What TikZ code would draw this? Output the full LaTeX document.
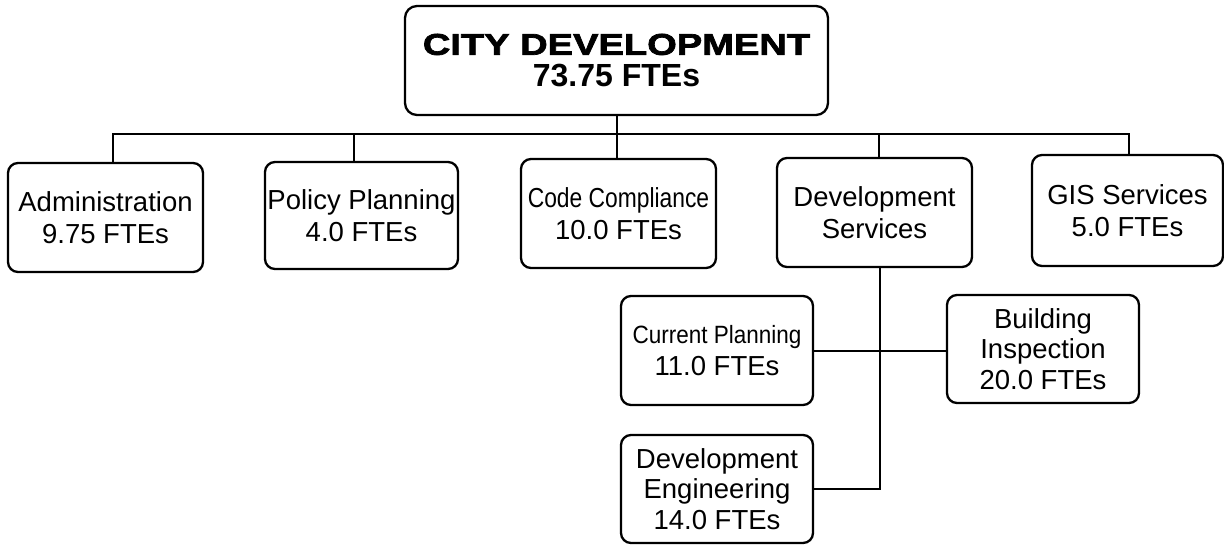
\documentclass[tikz,border=0pt]{standalone}
\usepackage{fontspec}
\setmainfont{Liberation Sans}
\newfontfamily\titlefont{Liberation Sans}[BoldFeatures={FakeStretch=1.27,FakeBold=2.4}]
\newfontfamily\narrowfont{Liberation Sans}[FakeStretch=0.83]
\begin{document}
\begin{tikzpicture}[x=1pt,y=-1pt,
  unit/.style={draw=black, line width=2.3pt, rounded corners=10pt, fill=white,
    inner sep=0pt, align=center, minimum width=#1, minimum height=109pt,
    font=\fontsize{27.5}{31.5}\selectfont},
  unit/.default=195pt,
  link/.style={line width=2pt, draw=black}]
\useasboundingbox (0,0) rectangle (1224,546);

% head of the department
\node[unit=423pt, minimum height=109pt, rounded corners=12pt,
      font=\fontsize{30}{33}\selectfont] (top) at (616.5,60.5)
  {{\titlefont\bfseries CITY DEVELOPMENT}\\[-1pt]{\fontsize{32}{33}\selectfont\bfseries 73.75 FTEs}};

% divisions
\node[unit] (adm) at (105.5,217.5) {Administration\\9.75 FTEs};
\node[unit=193pt, minimum height=107pt] (pol) at (361.5,215.5) {Policy Planning\\4.0 FTEs};
\node[unit] (cod) at (618.5,213.5) {{\narrowfont Code Compliance}\\10.0 FTEs};
\node[unit] (dev) at (874.5,212.5) {Development\\Services};
\node[unit=191pt, minimum height=111pt] (gis) at (1127.5,210.5) {GIS Services\\5.0 FTEs};

% sections under Development Services
\node[unit=192pt] (cur) at (717,350.5)
  {{\fontsize{25}{31.5}\selectfont\addfontfeatures{FakeStretch=0.9}Current Planning}\\11.0 FTEs};
\node[unit=192pt, minimum height=108pt, font=\fontsize{27.5}{30.5}\selectfont] (bld) at (1043,349)
  {Building\\Inspection\\20.0 FTEs};
\node[unit=192pt, minimum height=108pt, font=\fontsize{27.5}{30.5}\selectfont] (eng) at (717,489)
  {Development\\Engineering\\14.0 FTEs};

% horizontal bus joining the divisions
\coordinate (bus) at (0,134);
\draw[link] (top.south) -- (top.south |- bus);
\draw[link] ([xshift=7.5pt]adm.north) -- ([xshift=7.5pt]adm.north |- bus)
  -- ([xshift=1.5pt]gis.north |- bus) -- ([xshift=1.5pt]gis.north);
\draw[link] ([xshift=-7.5pt]pol.north) -- ([xshift=-7.5pt]pol.north |- bus);
\draw[link] ([xshift=-1.5pt]cod.north) -- ([xshift=-1.5pt]cod.north |- bus);
\draw[link] ([xshift=4.5pt]dev.north) -- ([xshift=4.5pt]dev.north |- bus);

% Development Services branch
\draw[link] ([xshift=5.5pt]dev.south) |- (eng.east);
\draw[link] (cur.east) -- (cur.east -| bld.west);
\end{tikzpicture}
\end{document}
